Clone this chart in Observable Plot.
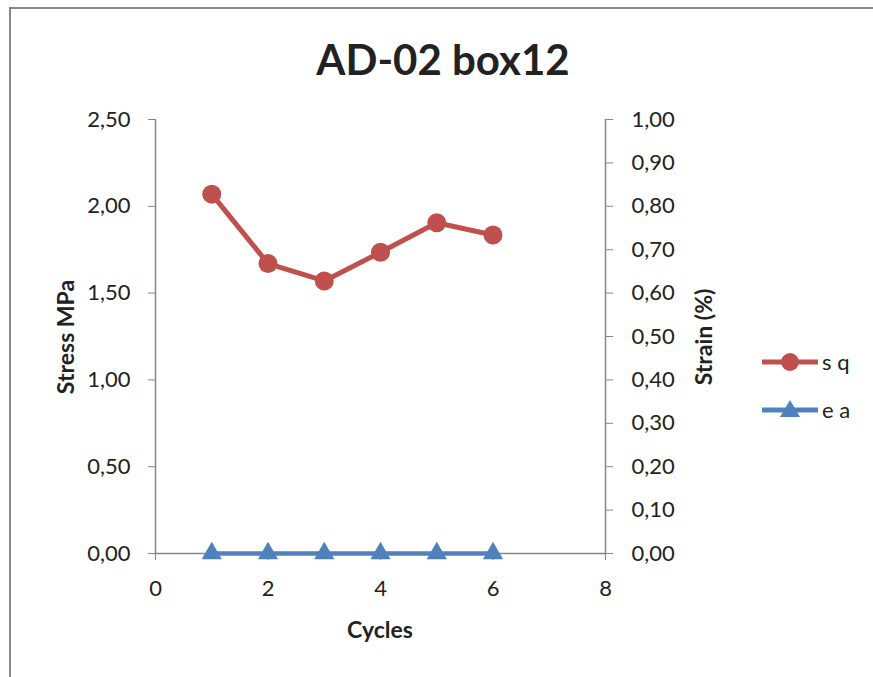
<!DOCTYPE html>
<html>
<head>
<meta charset="utf-8">
<script src="https://cdn.jsdelivr.net/npm/d3@7"></script>
<script src="https://cdn.jsdelivr.net/npm/@observablehq/plot@0.6"></script>
<style>
  html, body { margin: 0; padding: 0; background: #fff; overflow: hidden; }
  #wrap { position: relative; width: 873px; height: 677px; overflow: hidden; font-family: Lato, "Open Sans", sans-serif; color: #222; }
  #frameTop { position: absolute; left: 9px; top: 7px; width: 1000px; height: 0; border-top: 2.5px solid #888; }
  #frameLeft { position: absolute; left: 9px; top: 7px; width: 0; height: 800px; border-left: 2.5px solid #888; }
  #chart { position: absolute; left: 0; top: 0; }
  .title { position: absolute; left: 0; width: 886px; top: 34px; text-align: center; font-weight: bold; font-size: 42px; line-height: 50px; }
  .axt { position: absolute; font-weight: bold; font-size: 23px; white-space: nowrap; line-height: 28px; }
  .leg { position: absolute; left: 762px; font-size: 22px; line-height: 28px; display: flex; align-items: center; }
  .leg svg { display: block; }
</style>
</head>
<body>
<div id="wrap">
  <div id="frameTop"></div>
  <div id="frameLeft"></div>
  <div id="chart"></div>
  <div class="title">AD-02 box12</div>
  <div class="axt" id="ylab" style="left:65px; top:337px; transform: translate(-50%,-50%) rotate(-90deg);">Stress MPa</div>
  <div class="axt" id="y2lab" style="left:703px; top:337px; transform: translate(-50%,-50%) rotate(-90deg);">Strain (%)</div>
  <div class="axt" style="left:380px; top:629px; transform: translate(-50%,-50%);">Cycles</div>
  <div class="leg" style="top:348px;"><svg width="58" height="28"><line x1="0" x2="56" y1="14" y2="14" stroke="#C0504D" stroke-width="5"/><circle cx="28" cy="14" r="9" fill="#C0504D"/></svg><span style="margin-left:2px">s q</span></div>
  <div class="leg" style="top:396px;"><svg width="58" height="28"><line x1="0" x2="56" y1="14" y2="14" stroke="#4F81BD" stroke-width="5"/><path d="M28,4 L38,21 L18,21 Z" fill="#4F81BD"/></svg><span style="margin-left:2px">e a</span></div>
</div>
<script>
// Data
const cycles = [1, 2, 3, 4, 5, 6];
const stressSq = [2.07, 1.67, 1.57, 1.735, 1.905, 1.835];
const strainEa = [0, 0, 0, 0, 0, 0];
const stressTicks = [0, 0.5, 1.0, 1.5, 2.0, 2.5];
const strainTicks = [0, 0.1, 0.2, 0.3, 0.4, 0.5, 0.6, 0.7, 0.8, 0.9, 1.0];
const cycleTicks = [0, 2, 4, 6, 8];
const stressMax = 2.5;
const strainMax = 1.0;
const ratio = stressMax / strainMax;

const sq = cycles.map((c, i) => ({x: c, y: stressSq[i]}));
const ea = cycles.map((c, i) => ({x: c, y: strainEa[i] * ratio}));
const fmt = d => d3.format(".2f")(d).replace(".", ",");
const axisColor = "#868686";

const chart = Plot.plot({
  width: 873,
  height: 677,
  marginLeft: 155,
  marginRight: 268,
  marginTop: 119,
  marginBottom: 124,
  style: {fontFamily: "Lato, 'Open Sans', sans-serif", fontSize: "22px", color: "#222", background: "transparent", overflow: "visible"},
  x: {domain: [0, 8]},
  y: {domain: [0, stressMax]},
  marks: [
    Plot.ruleX([0, 8], {y1: 0, y2: stressMax, stroke: axisColor, strokeWidth: 1.5}),
    Plot.ruleY([0], {x1: 0, x2: 8, stroke: axisColor, strokeWidth: 1.5}),
    Plot.axisY({ticks: stressTicks, tickFormat: fmt, tickSize: 7, tickPadding: 18, stroke: axisColor, label: null, fill: "#222"}),
    Plot.axisY({anchor: "right", ticks: strainTicks.map(v => v * ratio), tickFormat: d => fmt(d / ratio), tickSize: 7, tickPadding: 19, stroke: axisColor, label: null, fill: "#222"}),
    Plot.axisX({ticks: cycleTicks, tickFormat: d => String(d), tickSize: 7, tickPadding: 20, stroke: axisColor, label: null, fill: "#222"}),
    Plot.line(ea, {x: "x", y: "y", stroke: "#4F81BD", strokeWidth: 4.5}),
    Plot.dot(ea, {x: "x", y: "y", symbol: "triangle", r: 7.5, fill: "#4F81BD", stroke: "none"}),
    Plot.line(sq, {x: "x", y: "y", stroke: "#C0504D", strokeWidth: 5}),
    Plot.dot(sq, {x: "x", y: "y", r: 9.5, fill: "#C0504D", stroke: "none"})
  ]
});
document.getElementById("chart").appendChild(chart);
</script>
</body>
</html>
